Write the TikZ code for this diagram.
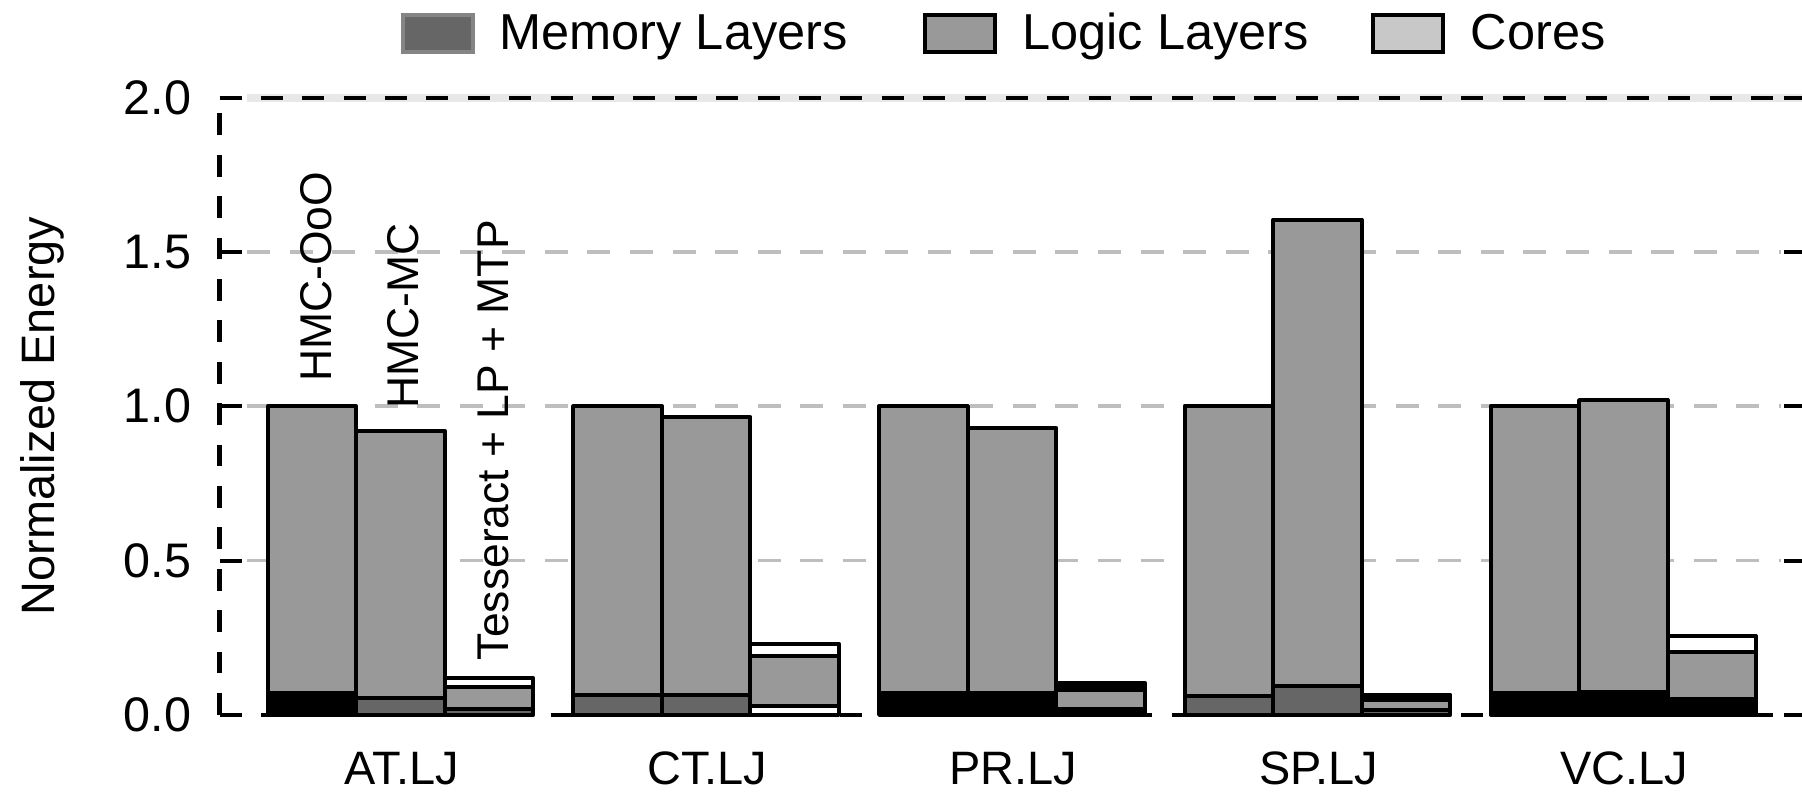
\documentclass[tikz,border=0pt]{standalone}
\usepackage{fontspec}
\setmainfont{Liberation Sans}
\definecolor{memgray}{HTML}{666666}
\definecolor{logicgray}{HTML}{999999}
\definecolor{coregray}{HTML}{C8C8C8}
\definecolor{gridgray}{HTML}{BEBEBE}
\definecolor{hazegray}{HTML}{E8E8E8}
% one stacked segment of a bar: x-left, lower value, upper value, fill
\newcommand\barseg[4]{\filldraw[segstyle, fill=#4] (#1,{622-268.5*#2}) rectangle ({#1+77},{622-268.5*#3});}
\begin{document}
\begin{tikzpicture}[x=0.01cm, y=-0.01cm,
  segstyle/.style={draw=black, line width=1pt, line join=round},
  gridline/.style={gridgray, line width=0.9pt, dash pattern=on 0.20cm off 0.17cm},
  axisline/.style={black, line width=1pt, dash pattern=on 0.19cm off 0.17cm},
  tickline/.style={black, line width=1pt},
  ticklabel/.style={anchor=east, inner sep=0pt, font=\fontsize{12}{14}\selectfont},
  grouplabel/.style={anchor=base, inner sep=0pt, font=\fontsize{11.6}{13}\selectfont},
  configlabel/.style={rotate=90, anchor=west, inner sep=0pt, font=\fontsize{11}{13}\selectfont},
  legendtext/.style={anchor=base west, inner sep=0pt, font=\fontsize{12.5}{14}\selectfont},
  swatch/.style={minimum width=0.61cm, minimum height=0.32cm, inner sep=0pt, line width=1pt}]
\useasboundingbox (0,0) rectangle (1568,690);

% horizontal grid
\foreach \v in {0.5,1,1.5}
  \draw[gridline] (215,{622-268.5*\v}) -- (1550,{622-268.5*\v});

% plot frame: top, left and bottom dashed lines
\draw[hazegray, line width=2pt] (215,85) -- (1568,85);
\draw[axisline] (191,85) -- (1568,85);
\draw[axisline] (191,622) -- (191,85);
\draw[axisline] (191,622) -- (1568,622);

% ticks on both sides
\foreach \v in {0,0.5,1,1.5,2} {
  \draw[tickline] (191,{622-268.5*\v}) -- (211,{622-268.5*\v});
  \draw[tickline] (1552,{622-268.5*\v}) -- (1568,{622-268.5*\v});
}

% tick labels
\node[ticklabel] (y00) at (167,622) {0.0};
\node[ticklabel] (y05) at (167,{622-268.5*0.5}) {0.5};
\node[ticklabel] (y10) at (167,{622-268.5*1.0}) {1.0};
\node[ticklabel] (y15) at (167,{622-268.5*1.5}) {1.5};
\node[ticklabel] (y20) at (167,{622-268.5*2.0}) {2.0};

% axis title
\node[rotate=90, inner sep=0pt, font=\fontsize{11.6}{14}\selectfont] (ytitle) at (37,362) {Normalized Energy};

% AT.LJ
\barseg{233}{0}{0.07}{black}
\barseg{233}{0.07}{1.0}{logicgray}
\barseg{310}{0}{0.055}{memgray}
\barseg{310}{0.055}{0.92}{logicgray}
\barseg{387}{0}{0.02}{memgray}
\barseg{387}{0.02}{0.09}{logicgray}
\barseg{387}{0.09}{0.118}{white}

% CT.LJ
\barseg{499}{0}{0.065}{memgray}
\barseg{499}{0.065}{1.0}{logicgray}
\barseg{576}{0}{0.065}{memgray}
\barseg{576}{0.065}{0.965}{logicgray}
\barseg{653}{0}{0.03}{white}
\barseg{653}{0.03}{0.19}{logicgray}
\barseg{653}{0.19}{0.23}{white}

% PR.LJ
\barseg{765}{0}{0.07}{black}
\barseg{765}{0.07}{1.0}{logicgray}
\barseg{842}{0}{0.07}{black}
\barseg{842}{0.07}{0.93}{logicgray}
\barseg{919}{0}{0.02}{black}
\barseg{919}{0.02}{0.08}{logicgray}
\barseg{919}{0.08}{0.104}{black}

% SP.LJ
\barseg{1031}{0}{0.06}{memgray}
\barseg{1031}{0.06}{1.0}{logicgray}
\barseg{1108}{0}{0.095}{memgray}
\barseg{1108}{0.095}{1.605}{logicgray}
\barseg{1185}{0}{0.015}{memgray}
\barseg{1185}{0.015}{0.048}{logicgray}
\barseg{1185}{0.048}{0.065}{black}

% VC.LJ
\barseg{1297}{0}{0.07}{black}
\barseg{1297}{0.07}{1.0}{logicgray}
\barseg{1374}{0}{0.075}{black}
\barseg{1374}{0.075}{1.02}{logicgray}
\barseg{1451}{0}{0.05}{black}
\barseg{1451}{0.05}{0.205}{logicgray}
\barseg{1451}{0.205}{0.255}{white}

% configuration names above the first group
\node[configlabel] (cfgooo) at (275,333) {HMC-OoO};
\node[configlabel] (cfgmc) at (351,356) {HMC-MC};
\node[configlabel] (cfgtess) at (429,575) {Tesseract + LP + MTP};

% group labels
\node[grouplabel] (gat) at (349.5,683) {AT.LJ};
\node[grouplabel] (gct) at (615.5,683) {CT.LJ};
\node[grouplabel] (gpr) at (881.5,683) {PR.LJ};
\node[grouplabel] (gsp) at (1147.5,683) {SP.LJ};
\node[grouplabel] (gvc) at (1413.5,683) {VC.LJ};

% legend
\node[swatch, fill=memgray, draw=memgray!80!white] (swmem) at (381,29) {};
\node[legendtext] (txmem) at (434,43) {Memory Layers};
\node[swatch, fill=logicgray, draw=black] (swlogic) at (835,29) {};
\node[legendtext] (txlogic) at (889,43) {Logic Layers};
\node[swatch, fill=coregray, draw=black] (swcore) at (1225,29) {};
\node[legendtext] (txcore) at (1279,43) {Cores};
\end{tikzpicture}
\end{document}
